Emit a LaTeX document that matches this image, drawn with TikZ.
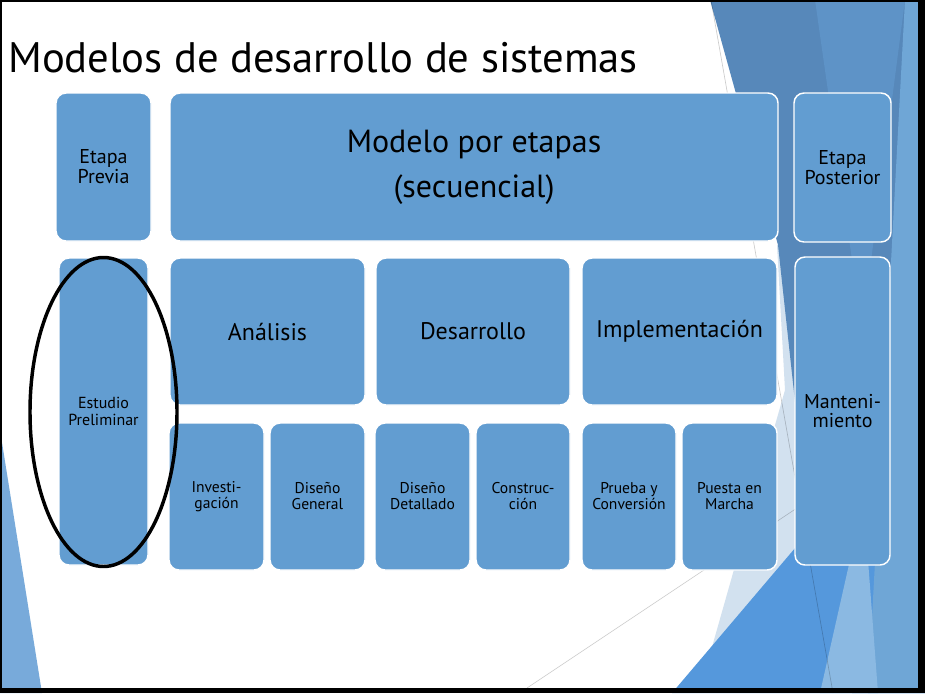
\documentclass[tikz,border=0pt]{standalone}
\usepackage{fontspec}
\usetikzlibrary{shapes.geometric}
\setmainfont{PT Sans}
\definecolor{boxblue}{HTML}{629DD1}
\definecolor{bgdark}{HTML}{5788BA}
\definecolor{bgmid}{HTML}{5E93C7}
\definecolor{bgright}{HTML}{6FA6D6}
\definecolor{bgbright}{HTML}{5598DC}
\definecolor{bglight}{HTML}{D2E1EF}
\definecolor{bgsliver}{HTML}{8BB9E2}
\definecolor{bgcorner}{HTML}{78AADA}
\newcommand\bx[7]{%
  \node[box, minimum width={(#4-#2)*0.75pt}, minimum height={(#5-#3)*0.75pt},
        font=#7] (#1) at ({(#2+#4)/2},{(#3+#5)/2}) {#6};}
\begin{document}
\begin{tikzpicture}[x=0.75pt,y=-0.75pt,
  box/.style={draw=white, line width=1.1pt, fill=boxblue, rounded corners=7.5pt,
              inner sep=0pt, align=center, text=black},
  bgline/.style={draw=black, opacity=0.2, line width=0.5pt}]
\useasboundingbox (0,0) rectangle (925,693);
\fill[white] (0,0) rectangle (925,693);
% background facets
\fill[bgcorner] (0,430) -- (42,693) -- (0,693) -- cycle;
\fill[bglight] (712,647) -- (785,390) -- (777,245) -- (800,245) -- (870,693) -- (760,693) -- cycle;
\fill[bgdark] (710,0) -- (925,0) -- (925,693) -- (852,693) -- (797,420) -- (778,245) -- cycle;
\fill[bgmid] (815,0) -- (905,0) -- (862,330) -- cycle;
\fill[bgbright] (672,693) -- (925,395) -- (925,693) -- cycle;
\fill[bgright] (905,0) -- (925,0) -- (925,693) -- (868,693) -- cycle;
\fill[bgsliver] (820,693) -- (850,560) -- (868,560) -- (878,693) -- cycle;
\coordinate (l1a) at (711,0); \coordinate (l1b) at (833,693);
\coordinate (l2a) at (527,688); \coordinate (l2b) at (797,508);
\draw[bgline] (l1a) -- (l1b);
\draw[bgline] (l2a) -- (l2b);
% title
\node[anchor=base west, inner sep=0pt, font=\fontsize{32}{36}\selectfont] (title) at (8,72) {Modelos de desarrollo de sistemas};
% top row
\bx{previa}{56}{93}{151}{241}{Etapa\\Previa}{\fontsize{15}{15}\selectfont}
\bx{modelo}{170}{93}{778}{241}{Modelo por etapas\\(secuencial)}{\fontsize{24}{33.75}\selectfont}
\bx{posterior}{794}{93}{891}{242}{Etapa\\Posterior}{\fontsize{15}{15}\selectfont}
% middle row
\bx{estudio}{59}{258}{148}{565}{Estudio\\Preliminar}{\fontsize{12}{12.5}\selectfont}
\bx{analisis}{170}{258}{365}{405}{Análisis}{\fontsize{18}{20}\selectfont}
\bx{desarrollo}{376}{258}{570}{405}{Desarrollo}{\fontsize{18}{20}\selectfont}
\bx{implementacion}{582}{258}{777}{405}{Implementación}{\fontsize{18}{20}\selectfont}
\bx{mant}{795}{257}{890}{565}{Manteni-\\miento}{\fontsize{15}{14.5}\selectfont}
% bottom row
\bx{invest}{169}{423}{264}{570}{Investi-\\gación}{\fontsize{11.7}{12}\selectfont}
\bx{disgen}{270}{423}{365}{570}{Diseño\\General}{\fontsize{11.7}{12}\selectfont}
\bx{disdet}{375}{423}{470}{570}{Diseño\\Detallado}{\fontsize{11.7}{12}\selectfont}
\bx{constr}{476}{423}{570}{570}{Construc-\\ción}{\fontsize{11.7}{12}\selectfont}
\bx{prueba}{582}{423}{676}{570}{Prueba y\\Conversión}{\fontsize{11.7}{12}\selectfont}
\bx{puesta}{682}{423}{777}{570}{Puesta en\\Marcha}{\fontsize{11.7}{12}\selectfont}
% ellipse
\node[draw=black, line width=2.6pt, ellipse, minimum width={147*0.75pt}, minimum height={309*0.75pt}, inner sep=0pt] (circ) at (103.5,412) {};
% frame
\fill[black] (0,0) rectangle (1.5,693);
\fill[black] (0,0) rectangle (925,2);
\fill[black] (918,0) rectangle (925,693);
\fill[black] (0,688) rectangle (925,693);
\end{tikzpicture}
\end{document}
